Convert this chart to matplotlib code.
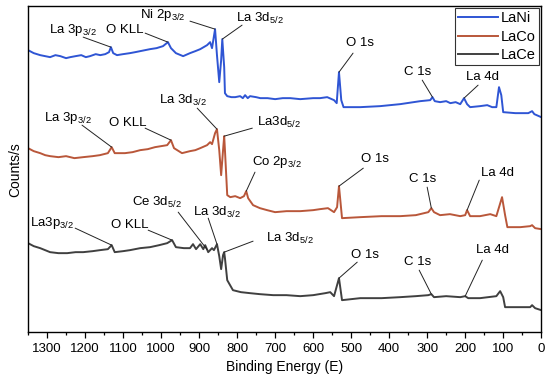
import matplotlib.pyplot as plt
import numpy as np
from matplotlib.ticker import MultipleLocator

plt.rcParams['font.family'] = ['Liberation Sans', 'DejaVu Sans']
plt.rcParams['mathtext.default'] = 'regular'

# XPS survey spectra, binding energy (eV) vs counts (offset, arb.)
e_ni = [1350, 1335, 1318, 1305, 1292, 1278, 1265, 1250, 1239, 1225, 1210, 1198, 1187, 1172,
        1160, 1147, 1137, 1132, 1126, 1116, 1100, 1082, 1068, 1055, 1042, 1029, 1012, 995,
        982, 974, 961, 942, 924, 910, 897, 879, 871, 866, 858, 853, 847, 842, 839, 834,
        832, 826, 815, 805, 792, 785, 779, 772, 766, 750, 739, 720, 700, 680, 660, 634,
        600, 582, 563, 545, 538, 532, 526, 520, 476, 424, 371, 318, 292, 286, 280, 266,
        250, 239, 225, 213, 203, 195, 187, 161, 142, 129, 118, 111, 105, 100, 68, 34, 24,
        18, 0]
y_ni = [282, 279, 277, 276, 275, 277, 276, 274, 275, 276, 277, 275, 276, 278,
        277, 278, 280, 285, 279, 277, 278, 279, 280, 281, 282, 283, 284, 286,
        290, 284, 279, 276, 279, 281, 283, 287, 290, 284, 303, 277, 250, 272, 293, 265,
        239, 236, 235, 235, 236, 234, 237, 234, 236, 235, 234, 234, 233, 234, 234, 233,
        234, 234, 235, 232, 229, 260, 232, 225, 225, 226, 228, 231, 232, 235, 231, 230,
        231, 229, 230, 228, 234, 228, 225, 226, 227, 225, 225, 245, 237, 220, 219, 219, 221,
        218, 215]

e_co = [1350, 1335, 1318, 1305, 1292, 1270, 1250, 1228, 1205, 1180, 1161, 1140, 1130, 1122,
        1095, 1075, 1055, 1035, 1016, 1000, 984, 974, 966, 945, 924, 910, 897, 879, 871,
        866, 858, 853, 847, 842, 837, 834, 832, 826, 818, 805, 792, 782, 776, 771, 758,
        740, 721, 700, 670, 634, 600, 582, 561, 545, 537, 532, 524, 476, 420, 371, 330,
        297, 289, 282, 266, 240, 213, 200, 195, 187, 161, 134, 118, 103, 95, 89, 55, 29,
        24, 16, 0]
y_co = [184, 181, 179, 177, 176, 175, 176, 174, 175, 176, 177, 179, 185, 179,
        179, 180, 182, 183, 185, 186, 187, 192, 184, 179, 181, 182, 184, 187, 190,
        188, 199, 203, 182, 157, 182, 196, 182, 137, 135, 136, 134, 136, 141, 134, 127,
        124, 122, 120, 121, 121, 122, 123, 124, 120, 125, 146, 114, 115, 116, 116, 117,
        120, 124, 120, 117, 118, 116, 117, 122, 116, 116, 118, 116, 135, 117, 105, 105, 106,
        107, 104, 103]

e_ce = [1350, 1335, 1318, 1305, 1292, 1270, 1247, 1225, 1205, 1180, 1161, 1140, 1130, 1122,
        1100, 1082, 1055, 1029, 1005, 984, 971, 961, 940, 924, 916, 908, 897, 889, 884, 876,
        866, 861, 853, 847, 842, 837, 834, 832, 826, 811, 790, 766, 740, 705, 670, 634,
        600, 568, 555, 545, 532, 524, 476, 420, 371, 330, 297, 289, 282, 250, 213, 200,
        192, 161, 118, 108, 100, 95, 55, 29, 24, 16, 0]
y_ce = [89, 86, 84, 82, 80, 79, 79, 80, 80, 81, 82, 83, 87, 80,
        81, 82, 84, 85, 87, 89, 92, 85, 84, 84, 88, 83, 88, 83, 87, 80,
        84, 82, 88, 76, 63, 77, 80, 74, 52, 42, 40, 39, 38, 37, 37, 36,
        37, 39, 40, 36, 54, 32, 34, 34, 35, 36, 37, 38, 35, 36, 35, 36,
        34, 34, 36, 41, 35, 25, 25, 25, 27, 24, 22]

series = [
    ('LaNi', e_ni, y_ni, '#2f55d4'),
    ('LaCo', e_co, y_co, '#b9573a'),
    ('LaCe', e_ce, y_ce, '#404040'),
]

# peak labels: (series index, label, text pos (E, y), line start (E, y), peak energy)
labels = [
    (0, 'La 3p$_{3/2}$', (1232, 302), (1205, 295), 1132),
    (0, 'O KLL', (1095, 302), (1042, 299), 982),
    (0, 'Ni 2p$_{3/2}$', (995, 317), (924, 311), 858),
    (0, 'La 3d$_{5/2}$', (739, 314), (787, 307), 839),
    (0, 'O 1s', (476, 289), (495, 279), 532),
    (0, 'C 1s', (324, 260), (313, 252), 286),
    (0, 'La 4d', (155, 255), (166, 247), 203),
    (1, 'La 3p$_{3/2}$', (1245, 214), (1208, 207), 1130),
    (1, 'O KLL', (1087, 209), (1042, 204), 974),
    (1, 'La 3d$_{3/2}$', (942, 232), (905, 224), 853),
    (1, 'La3d$_{5/2}$', (690, 210), (760, 204), 834),
    (1, 'Co 2p$_{3/2}$', (695, 170), (753, 160), 776),
    (1, 'O 1s', (437, 173), (468, 164), 532),
    (1, 'C 1s', (313, 153), (300, 145), 289),
    (1, 'La 4d', (116, 159), (163, 152), 195),
    (2, 'La3p$_{3/2}$', (1287, 109), (1226, 104), 1130),
    (2, 'O KLL', (1082, 107), (1034, 102), 971),
    (2, 'Ce 3d$_{5/2}$', (1011, 130), (955, 120), 879),
    (2, 'La 3d$_{3/2}$', (853, 120), (876, 114), 853),
    (2, 'La 3d$_{5/2}$', (660, 94), (758, 91), 834),
    (2, 'O 1s', (463, 77), (484, 70), 532),
    (2, 'C 1s', (324, 70), (321, 62), 289),
    (2, 'La 4d', (129, 82), (155, 72), 200),
]

fig = plt.figure(figsize=(5.5, 3.84), dpi=100)
ax = fig.add_axes([0.051, 0.135, 0.933, 0.849])

for name, e, y, c in series:
    ax.plot(e, y, color=c, lw=1.4, label=name)

for idx, text, tpos, lstart, epk in labels:
    e = np.array(series[idx][1])[::-1]
    y = np.array(series[idx][2])[::-1]
    ypk = np.interp(epk, e, y)
    ax.text(tpos[0], tpos[1], text, fontsize=9.5, ha='center', va='center')
    ax.annotate('', xy=(epk, ypk), xytext=lstart,
                arrowprops=dict(arrowstyle='-', lw=0.7, color='#222222',
                                shrinkA=0, shrinkB=0))

ax.set_xlim(1350, 0)
ax.set_ylim(0, 326)
ax.set_yticks([])
ax.xaxis.set_major_locator(MultipleLocator(100))
ax.xaxis.set_minor_locator(MultipleLocator(50))
ax.tick_params(axis='x', which='major', length=4, width=0.9, labelsize=9.5, direction='out')
ax.tick_params(axis='x', which='minor', length=2.5, width=0.9, direction='out')
for s in ax.spines.values():
    s.set_linewidth(1.0)

ax.set_xlabel('Binding Energy (E)', fontsize=10)
ax.set_ylabel('Counts/s', fontsize=10, labelpad=4)

leg = ax.legend(loc='upper right', fontsize=10.5, frameon=True, fancybox=False,
                edgecolor='black', handlelength=2.7, handletextpad=0.25,
                borderpad=0.2, labelspacing=0.3, borderaxespad=0.15)
leg.get_frame().set_linewidth(0.8)

fig.savefig('out.png', dpi=100)
